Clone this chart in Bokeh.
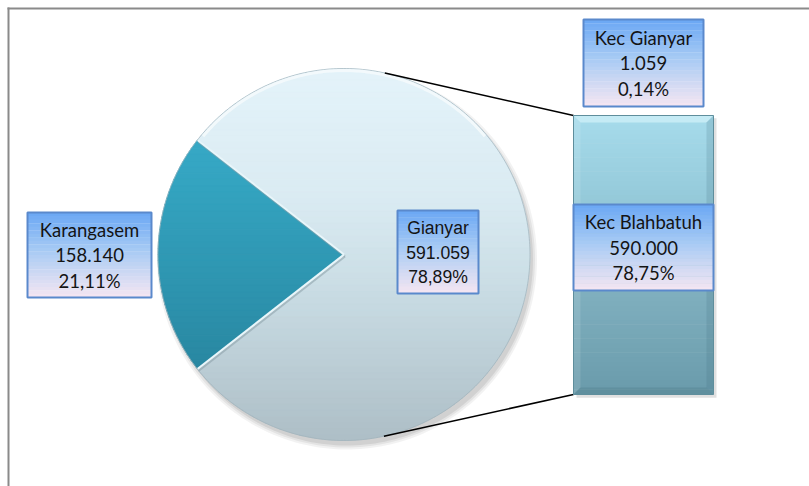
import math
import numpy as np
from bokeh.plotting import figure
from bokeh.models import Range1d
from bokeh.core.properties import value
from bokeh.embed import file_html
from bokeh.resources import INLINE

# ---------------- data ----------------
pie_categories = ["Karangasem", "Gianyar"]
pie_values = [158140, 591059]
pie_value_labels = ["158.140", "591.059"]
pie_percent_labels = ["21,11%", "78,89%"]

bar_categories = ["Kec Blahbatuh", "Kec Gianyar"]
bar_values = [590000, 1059]
bar_value_labels = ["590.000", "1.059"]
bar_percent_labels = ["78,75%", "0,14%"]

# ---------------- layout (page pixels) ----------------
W, H = 809, 486
OX, OY = 0, 0
CX, CY, R = 343.5, 254.0, 186.0
BAR_L, BAR_R = 573.0, 713.0
BAR_BOTTOM_PX, BAR_TOP_PX = 394.0, 115.0

bar_total = float(sum(bar_values))


def bar_px(v):
    return BAR_BOTTOM_PX - v / bar_total * (BAR_BOTTOM_PX - BAR_TOP_PX)


def px_to_val(py):
    return (BAR_BOTTOM_PX - py) / (BAR_BOTTOM_PX - BAR_TOP_PX) * bar_total


p = figure(width=W, height=H,
           x_range=Range1d(OX, OX + W), y_range=Range1d(OY + H, OY),
           output_backend="svg", toolbar_location=None, min_border=0,
           x_axis_location=None, y_axis_location=None)
p.grid.visible = False
p.outline_line_color = None
p.background_fill_color = "white"
p.border_fill_color = "white"
p.extra_y_ranges = {"bar": Range1d(px_to_val(OY + H), px_to_val(OY))}


def hex2rgb(h):
    h = h.lstrip("#")
    return [int(h[i:i + 2], 16) for i in (0, 2, 4)]


def interp(stops, t):
    t = min(max(t, 0.0), 1.0)
    for (t0, c0), (t1, c1) in zip(stops[:-1], stops[1:]):
        if t <= t1:
            f = 0 if t1 == t0 else (t - t0) / (t1 - t0)
            a, b = hex2rgb(c0), hex2rgb(c1)
            return "#%02x%02x%02x" % tuple(int(round(a[i] + f * (b[i] - a[i]))) for i in range(3))
    return stops[-1][1]


def clip(pts, keep, inter):
    out = []
    for i in range(len(pts)):
        cur, prev = pts[i], pts[i - 1]
        cin, pin = keep(cur), keep(prev)
        if cin:
            if not pin:
                out.append(inter(prev, cur))
            out.append(cur)
        elif pin:
            out.append(inter(prev, cur))
    return out


def ix(yc):
    def f(a, b):
        t = (yc - a[1]) / (b[1] - a[1])
        return (a[0] + t * (b[0] - a[0]), yc)
    return f


def clip_band(pts, y0, y1):
    q = clip(pts, lambda u: u[1] >= y0, ix(y0))
    if len(q) < 3:
        return None
    q = clip(q, lambda u: u[1] <= y1, ix(y1))
    if len(q) < 3:
        return None
    return q


def wedge_pts(a0, a1, n=200, center=True):
    th = np.linspace(a0, a1, n)
    xs = list(CX + R * np.cos(th))
    ys = list(CY - R * np.sin(th))
    pts = list(zip(xs, ys))
    if center:
        pts = [(CX, CY)] + pts
    return pts


def gradient_patches(pts, stops, ytop, ybot, nb=60):
    xs_all, ys_all, cols = [], [], []
    step = (ybot - ytop) / nb
    for i in range(nb):
        y0 = ytop + i * step - 0.3
        y1 = ytop + (i + 1) * step + 0.3
        q = clip_band(pts, y0, y1)
        if q is None:
            continue
        xs_all.append([u[0] for u in q])
        ys_all.append([u[1] for u in q])
        cols.append(interp(stops, (i + 0.5) / nb))
    p.patches(xs_all, ys_all, fill_color=cols, line_color=cols, line_width=0.6)


# ---------------- frame (partially visible) ----------------
p.line([8, 8], [7, OY + H], line_color="#8a8a8a", line_width=2)
p.line([7, OX + W], [8, 8], line_color="#8a8a8a", line_width=2)

# ---------------- pie ----------------
total = float(sum(pie_values))
span_k = 2 * math.pi * pie_values[0] / total
a_k0 = math.pi - span_k / 2
a_k1 = math.pi + span_k / 2

# soft shadow
for k, al in [(6, 0.05), (4, 0.06), (2, 0.08)]:
    th = np.linspace(0, 2 * math.pi, 240)
    p.patch(list(CX + 3 + (R + k - 2) * np.cos(th)), list(CY + 5 + (R + k - 2) * np.sin(th)),
            fill_color="black", fill_alpha=al, line_color=None)

g_pts = wedge_pts(a_k1, a_k0 + 2 * math.pi, 400)
g_stops = [(0.0, "#e4f3fa"), (0.35, "#daebf2"), (0.6, "#c9dce4"), (1.0, "#adbec6")]
gradient_patches(g_pts, g_stops, CY - R - 1, CY + R + 1)

k_pts = wedge_pts(a_k0, a_k1, 120)
k_stops = [(0.0, "#3bafcc"), (0.3, "#34a4c1"), (0.7, "#2b8ea8"), (1.0, "#247b94")]
gradient_patches(k_pts, k_stops, CY - R - 1, CY + R + 1)

# slice separators (highlight + shadow)
for a in (a_k0, a_k1):
    ex, ey = CX + R * math.cos(a), CY - R * math.sin(a)
    p.line([CX + 1, ex + 1], [CY + 2, ey + 2], line_color="#8fa3ab", line_width=2, line_alpha=0.6)
    p.line([CX, ex], [CY, ey], line_color="#e9f6fa", line_width=2)

# rim
th = np.linspace(0, 2 * math.pi, 360)
p.line(list(CX + R * np.cos(th)), list(CY + R * np.sin(th)), line_color="#9fb2ba", line_width=1, line_alpha=0.7)
th2 = np.linspace(math.radians(40), math.radians(140), 120)
p.line(list(CX + (R - 2) * np.cos(th2)), list(CY - (R - 2) * np.sin(th2)), line_color="#f4fafc", line_width=3, line_alpha=0.9)

# ---------------- connectors (tangent lines) ----------------
for corner_y, sign in ((bar_px(bar_total), -1), (bar_px(0), 1)):
    dx, dy = BAR_L - CX, corner_y - CY
    d = math.hypot(dx, dy)
    phi = math.atan2(dy, dx)
    alpha = math.acos(R / d)
    a = phi + sign * alpha
    tx, ty = CX + R * math.cos(a), CY + R * math.sin(a)
    p.line([tx, BAR_L], [ty, corner_y], line_color="black", line_width=1.6)

# ---------------- bar of pie ----------------
# shadow
p.quad(left=BAR_L + 3, right=BAR_R + 3, bottom=[-bar_total * 0.012], top=[bar_total * 0.99],
       y_range_name="bar", fill_color="black", fill_alpha=0.12, line_color=None)
bar_stops = [(0.0, "#6a9bab"), (0.45, "#84b4c3"), (0.75, "#98cddd"), (1.0, "#a6dbeb")]
nb = 60
bottoms, tops, cols = [], [], []
for i in range(nb):
    v0 = bar_values[0] * i / nb
    v1 = bar_values[0] * (i + 1) / nb
    bottoms.append(v0)
    tops.append(v1 + bar_values[0] * 0.002)
    cols.append(interp(bar_stops, (i + 0.5) / nb))
p.quad(left=BAR_L, right=BAR_R, bottom=bottoms, top=tops, y_range_name="bar",
       fill_color=cols, line_color=None)
p.quad(left=BAR_L, right=BAR_R, bottom=[bar_values[0]], top=[bar_values[0] + bar_values[1]],
       y_range_name="bar", fill_color="#b0e0ee", line_color=None)

# bevels
bt, bb = bar_px(bar_total), bar_px(0)
bv = 7
p.patch([BAR_L, BAR_R, BAR_R - bv, BAR_L + bv], [bt, bt, bt + bv, bt + bv], fill_color="#c9ecf6", fill_alpha=0.9, line_color=None)
p.patch([BAR_L, BAR_L + bv, BAR_L + bv, BAR_L], [bt, bt + bv, bb - bv, bb], fill_color="#ffffff", fill_alpha=0.12, line_color=None)
p.patch([BAR_R, BAR_R - bv, BAR_R - bv, BAR_R], [bt, bt + bv, bb - bv, bb], fill_color="#3e6a78", fill_alpha=0.18, line_color=None)
p.patch([BAR_L, BAR_R, BAR_R - bv, BAR_L + bv], [bb, bb, bb - bv, bb - bv], fill_color="#3e6a78", fill_alpha=0.25, line_color=None)
p.quad(left=BAR_L, right=BAR_R, bottom=[0], top=[bar_total], y_range_name="bar",
       fill_color=None, line_color="#5f8e9c", line_width=1)

# ---------------- labels ----------------
box_stops = [(0.0, "#6aa7f4"), (0.45, "#a8cbf4"), (1.0, "#f6e6f2")]


def label_box(x0, y0, x1, y1, lines, font, size, line_gap):
    n = 24
    h = (y1 - y0) / n
    lefts, rights, bots, tps, cs = [], [], [], [], []
    for i in range(n):
        lefts.append(x0)
        rights.append(x1)
        tps.append(y0 + i * h)
        bots.append(y0 + (i + 1) * h + 0.4)
        cs.append(interp(box_stops, (i + 0.5) / n))
    p.quad(left=lefts, right=rights, top=tps, bottom=bots, fill_color=cs, line_color=None)
    p.quad(left=[x0], right=[x1], top=[y0], bottom=[y1], fill_color=None,
           line_color="#5a89cc", line_width=2)
    cx = (x0 + x1) / 2
    cy = (y0 + y1) / 2
    ys = [cy + (i - (len(lines) - 1) / 2) * line_gap for i in range(len(lines))]
    p.text(x=[cx] * len(lines), y=ys, text=lines, text_align="center", text_baseline="middle",
           text_font=value(font), text_font_size=size, text_color="#141414")


label_box(27, 212, 151, 297,
          [pie_categories[0], pie_value_labels[0], pie_percent_labels[0]], "Lato", "18.5px", 25.5)
label_box(397, 210, 478, 293,
          [pie_categories[1], pie_value_labels[1], pie_percent_labels[1]], "Liberation Sans", "17.6px", 24.5)
label_box(583, 19, 703, 106,
          [bar_categories[1], bar_value_labels[1], bar_percent_labels[1]], "Lato", "18.5px", 25.5)
label_box(573, 204, 713, 290,
          [bar_categories[0], bar_value_labels[0], bar_percent_labels[0]], "Lato", "18.5px", 25.5)

open("out.html", "w").write(file_html(p, INLINE))
